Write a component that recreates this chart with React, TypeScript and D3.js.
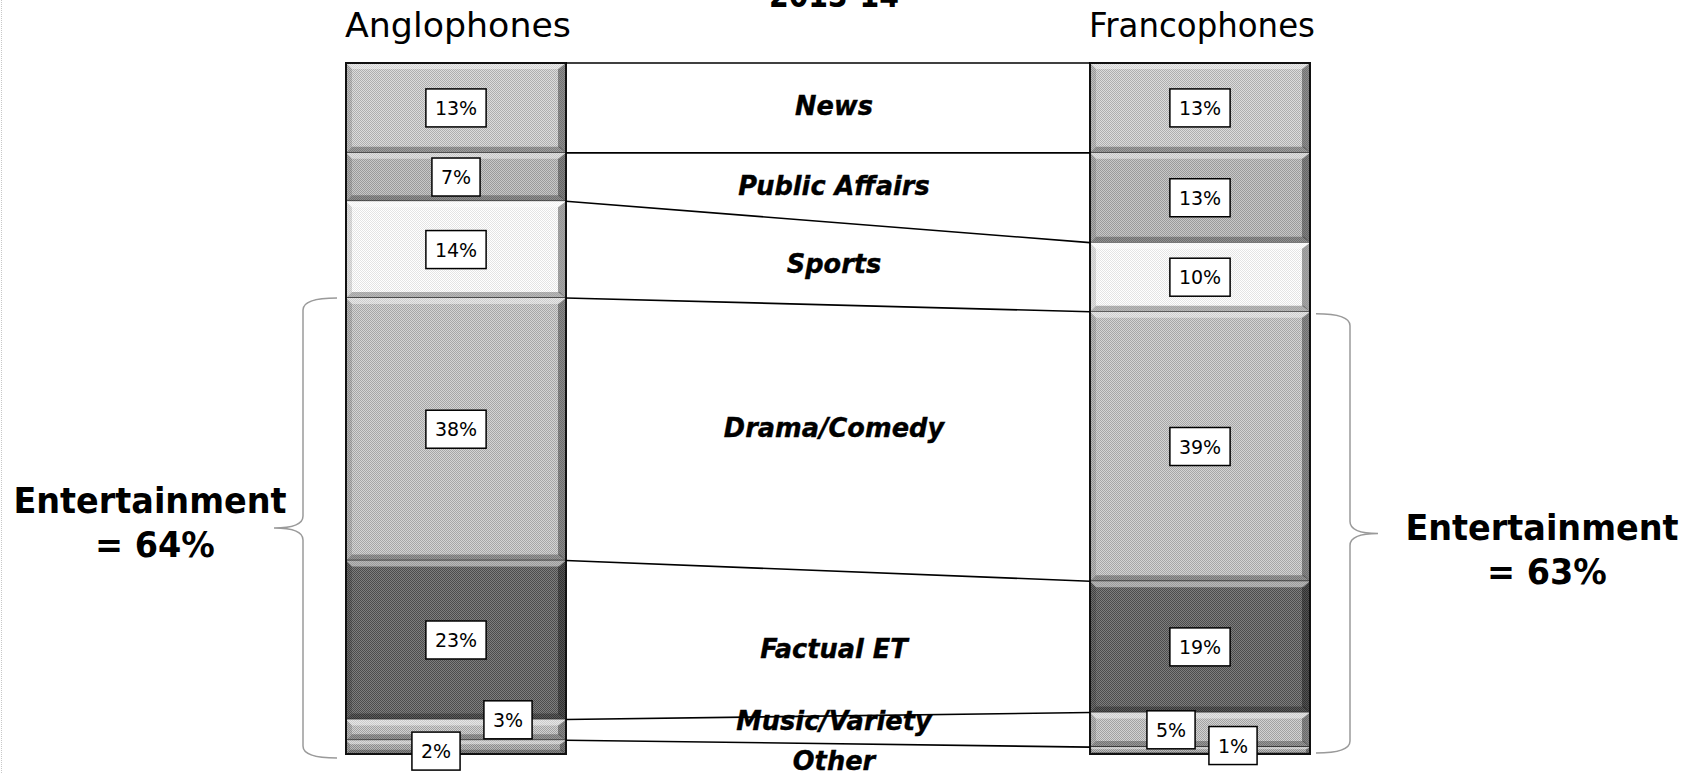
import React, { useRef, useEffect } from 'react';
import * as d3 from 'd3';

const title = '2013-14';
const groups = ['Anglophones', 'Francophones'];
const categories = ['News', 'Public Affairs', 'Sports', 'Drama/Comedy', 'Factual ET', 'Music/Variety', 'Other'];
const anglophones = [13, 7, 14, 38, 23, 3, 2];
const francophones = [13, 13, 10, 39, 19, 5, 1];
const entertainment = ['Drama/Comedy', 'Factual ET', 'Music/Variety'];

// light / dark tone of the dithered fill per category
const tones: [string, string][] = [
  ['#dcdcdc', '#aeaeae'],
  ['#c8c8c8', '#9a9a9a'],
  ['#ffffff', '#e4e4e4'],
  ['#d4d4d4', '#a6a6a6'],
  ['#7e7e7e', '#4c4c4c'],
  ['#d2d2d2', '#a2a2a2'],
  ['#bcbcbc', '#8a8a8a'],
];

// manual nudges for the small % boxes (dx, dy)
const pctNudge: [number, number][][] = [
  [[0, 0], [0, 0], [0, 0], [0, 0], [0, 0], [52, -10], [-20, 4]],
  [[0, 0], [0, 0], [0, 0], [0, 0], [0, 0], [-29, 0], [33, -5]],
];
// vertical nudges for the category names
const labelNudge = [-1, 0, 2, -9, 7, -8, 13];

const W = 1688;
const H = 773;
const FONT = '"DejaVu Sans", Verdana, sans-serif';

const App = () => {
  const svgRef = useRef<SVGSVGElement>(null);

  useEffect(() => {
    const svg = d3.select(svgRef.current);
    svg.selectAll('*').remove();

    const x = d3.scaleBand<string>().domain(groups).range([346, 1310]).paddingInner(524 / 744);
    const bw = x.bandwidth();
    const y = d3.scaleLinear().domain([0, 100]).range([63, 754]);

    const series = [anglophones, francophones];
    const rows = groups.map((g, i) => {
      const r: Record<string, number> = {};
      categories.forEach((c, j) => { r[c] = series[i][j]; });
      return r;
    });
    const layers = d3.stack<Record<string, number>>().keys(categories)(rows);

    // dithered patterns
    const defs = svg.append('defs');
    tones.forEach(([light, dark], k) => {
      const p = defs.append('pattern')
        .attr('id', `pat${k}`)
        .attr('patternUnits', 'userSpaceOnUse')
        .attr('width', 2)
        .attr('height', 2);
      p.append('rect').attr('width', 2).attr('height', 2).attr('fill', light);
      p.append('rect').attr('width', 1).attr('height', 1).attr('fill', dark);
      p.append('rect').attr('x', 1).attr('y', 1).attr('width', 1).attr('height', 1).attr('fill', dark);
    });

    // faint page edge
    svg.append('line')
      .attr('x1', 1.5).attr('x2', 1.5).attr('y1', 0).attr('y2', H)
      .attr('stroke', '#c8c8c8').attr('stroke-dasharray', '1,1');

    // title (cut off at top)
    svg.append('text')
      .attr('transform', `translate(834,7) scale(0.86,1)`)
      .attr('text-anchor', 'middle')
      .attr('font-family', FONT)
      .attr('font-weight', 'bold')
      .attr('font-size', 33)
      .text(title);

    // group headers
    groups.forEach(g => {
      svg.append('text')
        .attr('x', (x(g) as number) + bw / 2 + 2)
        .attr('y', 37)
        .attr('text-anchor', 'middle')
        .attr('font-family', FONT)
        .attr('font-size', 34)
        .attr('textLength', 226)
        .attr('lengthAdjust', 'spacingAndGlyphs')
        .attr('fill', '#000')
        .text(g);
    });

    // bar segments
    const bars = svg.append('g');
    layers.forEach((layer, k) => {
      layer.forEach((d, i) => {
        const x0 = x(groups[i]) as number;
        const x1 = x0 + bw;
        const y0 = y(d[0]);
        const y1 = y(d[1]);
        const h = y1 - y0;
        const b = Math.min(6, h * 0.3);
        const seg = bars.append('g');
        seg.append('rect')
          .attr('x', x0).attr('y', y0).attr('width', bw).attr('height', h)
          .attr('fill', `url(#pat${k})`);
        const poly = (pts: number[][], fill: string, op: number) => seg.append('polygon')
          .attr('points', pts.map(p => p.join(',')).join(' '))
          .attr('fill', fill).attr('opacity', op);
        poly([[x0, y0], [x1, y0], [x1 - b, y0 + b], [x0 + b, y0 + b]], '#fff', 0.45);
        poly([[x0, y1], [x1, y1], [x1 - b, y1 - b], [x0 + b, y1 - b]], '#000', 0.28);
        poly([[x0, y0], [x0 + b, y0 + b], [x0 + b, y1 - b], [x0, y1]], '#000', 0.12);
        poly([[x1, y0], [x1 - b - 2, y0 + b], [x1 - b - 2, y1 - b], [x1, y1]], '#000', 0.35);
        seg.append('line')
          .attr('x1', x0).attr('x2', x1).attr('y1', y1).attr('y2', y1)
          .attr('stroke', '#222').attr('stroke-width', 1.5);
      });
    });
    groups.forEach(g => {
      bars.append('rect')
        .attr('x', x(g) as number).attr('y', y(0)).attr('width', bw).attr('height', y(100) - y(0))
        .attr('fill', 'none').attr('stroke', '#111').attr('stroke-width', 2);
    });

    // connector lines between the bars
    const lx = (x(groups[0]) as number) + bw;
    const rx = x(groups[1]) as number;
    const conn = [[0, 0], ...layers.slice(0, -1).map(l => [l[0][1], l[1][1]])];
    conn.forEach(([a, f]) => {
      svg.append('line')
        .attr('x1', lx).attr('y1', y(a)).attr('x2', rx).attr('y2', y(f))
        .attr('stroke', '#000').attr('stroke-width', 1.6);
    });

    // category names
    const midX = (lx + rx) / 2 + 6;
    layers.forEach((layer, k) => {
      const ca = y((layer[0][0] + layer[0][1]) / 2);
      const cf = y((layer[1][0] + layer[1][1]) / 2);
      const cy = (ca + cf) / 2 + 8 + labelNudge[k];
      svg.append('text')
        .attr('transform', `translate(${midX},${cy}) scale(0.95,1)`)
        .attr('text-anchor', 'middle')
        .attr('font-family', FONT)
        .attr('font-weight', 'bold')
        .attr('font-style', 'italic')
        .attr('font-size', 27)
        .attr('stroke', '#000')
        .attr('stroke-width', 0.4)
        .text(categories[k]);
    });

    // % boxes
    layers.forEach((layer, k) => {
      layer.forEach((d, i) => {
        const [dx, dy] = pctNudge[i][k];
        const cx = (x(groups[i]) as number) + bw / 2 + dx;
        const cy = y((d[0] + d[1]) / 2) + dy;
        const g = svg.append('g');
        const rect = g.append('rect');
        const t = g.append('text')
          .attr('x', cx).attr('y', cy + 7)
          .attr('text-anchor', 'middle')
          .attr('font-family', FONT)
          .attr('font-size', 19)
          .text(`${d[1] - d[0]}%`);
        const tw = (t.node() as SVGTextElement).getComputedTextLength();
        rect.attr('x', cx - tw / 2 - 9).attr('y', cy - 19)
          .attr('width', tw + 18).attr('height', 38)
          .attr('fill', '#fff').attr('stroke', '#000').attr('stroke-width', 1.5);
      });
    });

    // entertainment braces
    const entIdx = categories.indexOf(entertainment[0]);
    const brace = (xEnd: number, xV: number, xTip: number, top: number, bot: number) => {
      const mid = (top + bot) / 2;
      return `M${xEnd},${top} Q${xV},${top} ${xV},${top + 12} L${xV},${mid - 12} Q${xV},${mid} ${xTip},${mid} ` +
        `Q${xV},${mid} ${xV},${mid + 12} L${xV},${bot - 12} Q${xV},${bot} ${xEnd},${bot}`;
    };
    const totals = series.map(vals => d3.sum(entertainment.map(c => vals[categories.indexOf(c)])));
    const leftX = x(groups[0]) as number;
    const rightX = (x(groups[1]) as number) + bw;

    const lTop = y(layers[entIdx][0][0]);
    const lBot = y(100) + 4;
    svg.append('path')
      .attr('d', brace(leftX - 9, leftX - 43, leftX - 72, lTop, lBot))
      .attr('fill', 'none').attr('stroke', '#9a9a9a').attr('stroke-width', 1.5);
    const rTop = y(layers[entIdx][1][0]) + 2;
    const rBot = y(100) - 1;
    svg.append('path')
      .attr('d', brace(rightX + 6, rightX + 40, rightX + 68, rTop, rBot))
      .attr('fill', 'none').attr('stroke', '#9a9a9a').attr('stroke-width', 1.5);

    const entLabel = (cx: number, base: number, total: number) => {
      ['Entertainment', `= ${total}%`].forEach((s, j) => {
        svg.append('text')
          .attr('transform', `translate(${cx + j * 5},${base + j * 44}) scale(0.93,1)`)
          .attr('text-anchor', 'middle')
          .attr('font-family', FONT)
          .attr('font-weight', 'bold')
          .attr('font-size', 36)
          .text(s);
      });
    };
    entLabel(150, (lTop + lBot) / 2 - 15, totals[0]);
    entLabel(1542, (rTop + rBot) / 2 + 7, totals[1]);
  }, []);

  return (
    <svg
      ref={svgRef}
      width={W}
      height={H}
      style={{ position: 'absolute', left: 0, top: 0, display: 'block', background: '#fff' }}
    />
  );
};

export default App;
